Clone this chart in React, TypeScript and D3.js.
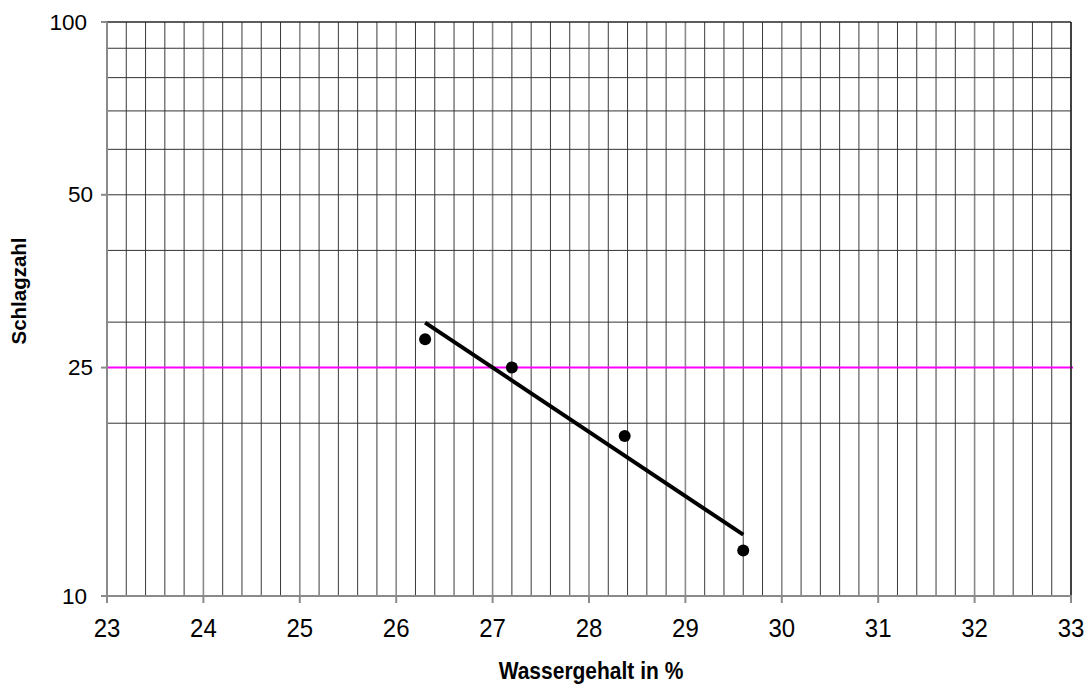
import React from "react";
import * as d3 from "d3";

const waterContent = [26.3, 27.2, 28.37, 29.6];
const blowCount = [28, 25, 19, 12];
const xTicks = [23, 24, 25, 26, 27, 28, 29, 30, 31, 32, 33];
const yTickLabels = [10, 25, 50, 100];
const yGridValues = [20, 30, 40, 50, 60, 70, 80, 90, 100];
const referenceValue = 25;
const xTitle = "Wassergehalt in %";
const yTitle = "Schlagzahl";

const W = 1089;
const H = 684;
const L = 107, R = 1071, T = 22, B = 596;

export default function App() {
  const x = d3.scaleLinear().domain([23, 33]).range([L, R]);
  const y = d3.scaleLog().domain([10, 100]).range([B, T]);

  const minor = d3.range(23, 33.0001, 0.2).map((v) => Math.round(v * 10) / 10);

  // log-linear regression trend line
  const lx = waterContent;
  const ly = blowCount.map((v) => Math.log10(v));
  const mx = d3.mean(lx)!;
  const my = d3.mean(ly)!;
  const sxy = d3.sum(lx.map((v, i) => (v - mx) * (ly[i] - my)));
  const sxx = d3.sum(lx.map((v) => (v - mx) * (v - mx)));
  const slope = sxy / sxx;
  const icpt = my - slope * mx;
  const x0 = d3.min(lx)!;
  const x1 = d3.max(lx)!;
  const trend: [number, number][] = [
    [x0, Math.pow(10, icpt + slope * x0)],
    [x1, Math.pow(10, icpt + slope * x1)],
  ];
  const line = d3
    .line<[number, number]>()
    .x((d) => x(d[0]))
    .y((d) => y(d[1]));

  const font = "'Liberation Sans', Arial, sans-serif";
  const isDecade = (v: number) => Math.abs(Math.log10(v) - Math.round(Math.log10(v))) < 1e-9;

  return (
    <svg
      width={W}
      height={H}
      style={{ position: "absolute", left: 0, top: 0, background: "#fff" }}
      fontFamily={font}
    >
      <rect x={0} y={0} width={W} height={H} fill="#fff" />
      {/* vertical grid */}
      {minor.map((v) => {
        const isMajor = Math.abs(v - Math.round(v)) < 1e-6;
        return (
          <line
            key={"v" + v}
            x1={x(v)}
            x2={x(v)}
            y1={T}
            y2={B}
            stroke={isMajor ? "#8a8a8a" : "#3a3a3a"}
            strokeWidth={isMajor ? 1.6 : 1}
          />
        );
      })}
      {/* horizontal grid */}
      {yGridValues.map((v) => (
        <line
          key={"h" + v}
          x1={L}
          x2={R}
          y1={y(v)}
          y2={y(v)}
          stroke="#333"
          strokeWidth={1}
        />
      ))}
      {/* reference line */}
      <line
        x1={L}
        x2={R + 2}
        y1={y(referenceValue)}
        y2={y(referenceValue)}
        stroke="#ff00ff"
        strokeWidth={2}
      />
      {/* borders */}
      <line x1={R} x2={R} y1={T} y2={B} stroke="#222" strokeWidth={1.5} />
      <line x1={L} x2={R} y1={T} y2={T} stroke="#222" strokeWidth={1.2} />
      {/* axes */}
      <line x1={L} x2={L} y1={T} y2={B} stroke="#8a8a8a" strokeWidth={2} />
      <line x1={L - 6} x2={R + 1} y1={B} y2={B} stroke="#8a8a8a" strokeWidth={2} />
      {yTickLabels.map((v) => (
        <g key={"yt" + v}>
          <line x1={L - 6} x2={L} y1={y(v)} y2={y(v)} stroke="#8a8a8a" strokeWidth={2} />
          <text
            x={isDecade(v) ? 87 : 93}
            y={y(v)}
            textAnchor="end"
            dominantBaseline="central"
            fontSize={22.5}
            fill="#000"
          >
            {v}
          </text>
        </g>
      ))}
      {xTicks.map((v) => (
        <g key={"xt" + v}>
          <line x1={x(v)} x2={x(v)} y1={B} y2={B + 7} stroke="#8a8a8a" strokeWidth={2} />
          <text
            transform={`translate(${x(v)},637) scale(1,1.1)`}
            textAnchor="middle"
            fontSize={24}
            fill="#000"
          >
            {v}
          </text>
        </g>
      ))}
      {/* trend line */}
      <path d={line(trend) || ""} stroke="#000" strokeWidth={4} fill="none" />
      {/* points */}
      {waterContent.map((v, i) => (
        <circle key={"p" + i} cx={x(v)} cy={y(blowCount[i])} r={6} fill="#000" />
      ))}
      {/* titles */}
      <text
        transform={`translate(591,679) scale(1,1.1)`}
        textAnchor="middle"
        fontSize={21}
        fontWeight="bold"
        fill="#000"
      >
        {xTitle}
      </text>
      <text
        transform={`translate(26,291) rotate(-90)`}
        textAnchor="middle"
        fontSize={20.5}
        fontWeight="bold"
        fill="#000"
      >
        {yTitle}
      </text>
    </svg>
  );
}
